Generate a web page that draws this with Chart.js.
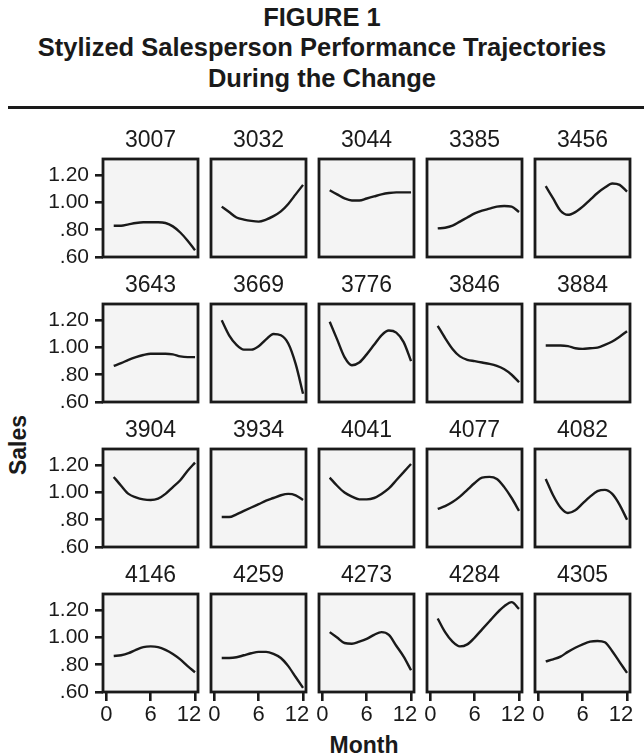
<!DOCTYPE html>
<html><head><meta charset="utf-8">
<script src="https://cdn.jsdelivr.net/npm/chart.js@4.4.1/dist/chart.umd.min.js"></script>
<style>
html,body{margin:0;padding:0;background:#fff;}
body{width:644px;height:756px;position:relative;overflow:hidden;font-family:"Liberation Sans",Arial,Helvetica,sans-serif;color:#1a1a1a;}
#title{position:absolute;left:0;top:1.5px;width:644px;text-align:center;font-weight:bold;font-size:25.5px;line-height:30.5px;}
#rule{position:absolute;left:8px;top:106px;width:636px;height:3px;background:#1a1a1a;}
#ylab{position:absolute;left:18px;top:445px;transform:translate(-50%,-50%) rotate(-90deg);font-weight:bold;font-size:23px;line-height:23px;white-space:nowrap;}
#xlab{position:absolute;left:364px;top:745px;transform:translate(-50%,-50%);font-weight:bold;font-size:23px;line-height:23px;white-space:nowrap;}
canvas{position:absolute;}
</style></head><body>
<div id="title">FIGURE 1<br>Stylized Salesperson Performance Trajectories<br>During the Change</div>
<div id="rule"></div>
<div id="ylab">Sales</div>
<div id="xlab">Month</div>
<script>
const months = [1,2,3,4,5,6,7,8,9,10,11,12];
const panelIds = ['3007','3032','3044','3385','3456','3643','3669','3776','3846','3884','3904','3934','4041','4077','4082','4146','4259','4273','4284','4305'];
const s3007 = [0.83,0.83,0.84,0.85,0.855,0.855,0.855,0.85,0.825,0.78,0.72,0.65];
const s3032 = [0.97,0.93,0.89,0.875,0.865,0.86,0.875,0.90,0.935,0.99,1.06,1.13];
const s3044 = [1.09,1.06,1.03,1.015,1.015,1.03,1.045,1.06,1.07,1.075,1.075,1.075];
const s3385 = [0.81,0.815,0.83,0.86,0.89,0.92,0.94,0.955,0.97,0.975,0.97,0.93];
const s3456 = [1.12,1.03,0.94,0.91,0.93,0.97,1.02,1.07,1.11,1.14,1.13,1.08];
const s3643 = [0.865,0.885,0.91,0.93,0.945,0.955,0.955,0.955,0.95,0.935,0.93,0.93];
const s3669 = [1.20,1.09,1.02,0.985,0.985,1.01,1.06,1.10,1.09,1.03,0.88,0.66];
const s3776 = [1.19,1.06,0.93,0.87,0.89,0.95,1.02,1.09,1.125,1.11,1.04,0.90];
const s3846 = [1.16,1.07,0.99,0.935,0.91,0.90,0.89,0.88,0.865,0.84,0.80,0.745];
const s3884 = [1.015,1.015,1.015,1.01,0.995,0.99,0.995,1.00,1.02,1.045,1.08,1.12];
const s3904 = [1.115,1.05,0.99,0.965,0.95,0.945,0.955,0.99,1.04,1.09,1.16,1.22];
const s3934 = [0.82,0.82,0.84,0.865,0.89,0.915,0.94,0.96,0.98,0.99,0.98,0.945];
const s4041 = [1.11,1.05,1.00,0.97,0.95,0.95,0.96,0.99,1.03,1.09,1.15,1.21];
const s4077 = [0.88,0.90,0.93,0.97,1.02,1.07,1.11,1.115,1.10,1.04,0.96,0.865];
const s4082 = [1.10,0.98,0.89,0.85,0.87,0.92,0.97,1.01,1.02,0.99,0.91,0.80];
const s4146 = [0.865,0.87,0.885,0.91,0.93,0.935,0.93,0.91,0.88,0.84,0.79,0.745];
const s4259 = [0.85,0.85,0.855,0.87,0.885,0.895,0.895,0.88,0.85,0.79,0.71,0.63];
const s4273 = [1.04,1.00,0.96,0.955,0.97,0.99,1.02,1.04,1.02,0.94,0.86,0.76];
const s4284 = [1.14,1.04,0.97,0.935,0.95,1.00,1.06,1.12,1.18,1.23,1.26,1.21];
const s4305 = [0.825,0.84,0.86,0.895,0.925,0.95,0.97,0.975,0.965,0.90,0.82,0.74];
const panelSeries = [s3007,s3032,s3044,s3385,s3456,s3643,s3669,s3776,s3846,s3884,s3904,s3934,s4041,s4077,s4082,s4146,s4259,s4273,s4284,s4305];
const yTickValues = [0.6,0.8,1.0,1.2];
const yTickLabels = ['.60','.80','1.00','1.20'];
const xTickValues = [0,6,12];
const xTickLabels = ['0','6','12  '];

const FONT = '"Liberation Sans", Arial, Helvetica, sans-serif';
const INK = '#1a1a1a';
const COLS = 5, ROWS = 4;
const AREA_W = 95, AREA_H = 98;
const TOP_BLOCK = 32;

const panelFrame = {
  id: 'panelFrame',
  beforeDraw(chart) {
    const a = chart.chartArea, ctx = chart.ctx;
    ctx.save(); ctx.fillStyle = '#f4f4f4';
    ctx.fillRect(a.left, a.top, a.right - a.left, a.bottom - a.top);
    ctx.restore();
  },
  afterDraw(chart) {
    const a = chart.chartArea, ctx = chart.ctx;
    ctx.save(); ctx.strokeStyle = INK; ctx.lineWidth = 2.8;
    ctx.strokeRect(a.left, a.top, a.right - a.left, a.bottom - a.top);
    ctx.restore();
  }
};

panelIds.forEach((id, i) => {
  const r = Math.floor(i / COLS), c = i % COLS;
  const areaLeft = 103 + 108 * c, areaTop = 159 + 145 * r;
  const leftCol = c === 0, bottomRow = r === ROWS - 1;
  const leftSpace = leftCol ? 100 : 4;
  const rightSpace = bottomRow ? 16 : 4;
  const bottomSpace = bottomRow ? 42 : 14;
  const cv = document.createElement('canvas');
  cv.width = leftSpace + AREA_W + rightSpace;
  cv.height = TOP_BLOCK + AREA_H + bottomSpace;
  cv.style.left = (areaLeft - leftSpace) + 'px';
  cv.style.top = (areaTop - TOP_BLOCK) + 'px';
  cv.style.width = cv.width + 'px';
  cv.style.height = cv.height + 'px';
  document.body.appendChild(cv);
  const series = panelSeries[i];
  new Chart(cv, {
    type: 'line',
    data: { datasets: [{
      data: months.map((m, k) => ({ x: m, y: series[k] })),
      borderColor: INK, borderWidth: 2.4, pointRadius: 0, fill: false,
      cubicInterpolationMode: 'monotone'
    }]},
    plugins: [panelFrame],
    options: {
      responsive: false, animation: false, events: [], devicePixelRatio: 1,
      layout: { autoPadding: false, padding: { left: leftCol ? 0 : 4, right: rightSpace, top: 0, bottom: bottomRow ? 0 : bottomSpace } },
      plugins: {
        legend: { display: false }, tooltip: { enabled: false },
        title: { display: true, text: id, fullSize: false, position: 'top', align: 'center', color: INK,
          font: { family: FONT, size: 23, weight: 'normal', lineHeight: 1.2 }, padding: { top: 0, bottom: 4.4 } }
      },
      scales: {
        x: {
          type: 'linear', min: -0.45, max: 12.4, display: bottomRow,
          afterBuildTicks: s => { s.ticks = xTickValues.map(v => ({ value: v })); },
          afterFit: s => { s.height = bottomRow ? 42 : 0; s.paddingLeft = 0; s.paddingRight = 0; },
          grid: { display: true, drawOnChartArea: false, drawTicks: true, tickLength: 9, lineWidth: 2.6, color: INK },
          border: { display: false },
          ticks: { autoSkip: false, maxRotation: 0, minRotation: 0, padding: 1, color: INK,
            font: { family: FONT, size: 22 }, callback: (v, k) => xTickLabels[k] }
        },
        y: {
          type: 'linear', min: 0.6, max: 1.32, display: leftCol,
          afterBuildTicks: s => { s.ticks = yTickValues.map(v => ({ value: v })); },
          afterFit: s => { s.width = leftCol ? 100 : 0; s.paddingTop = 0; s.paddingBottom = 0; },
          grid: { display: true, drawOnChartArea: false, drawTicks: true, tickLength: 8, lineWidth: 2.6, color: INK },
          border: { display: false },
          ticks: { autoSkip: false, padding: 6, color: INK,
            font: { family: FONT, size: 21 }, callback: (v, k) => yTickLabels[k] }
        }
      }
    }
  });
});
</script></body></html>
